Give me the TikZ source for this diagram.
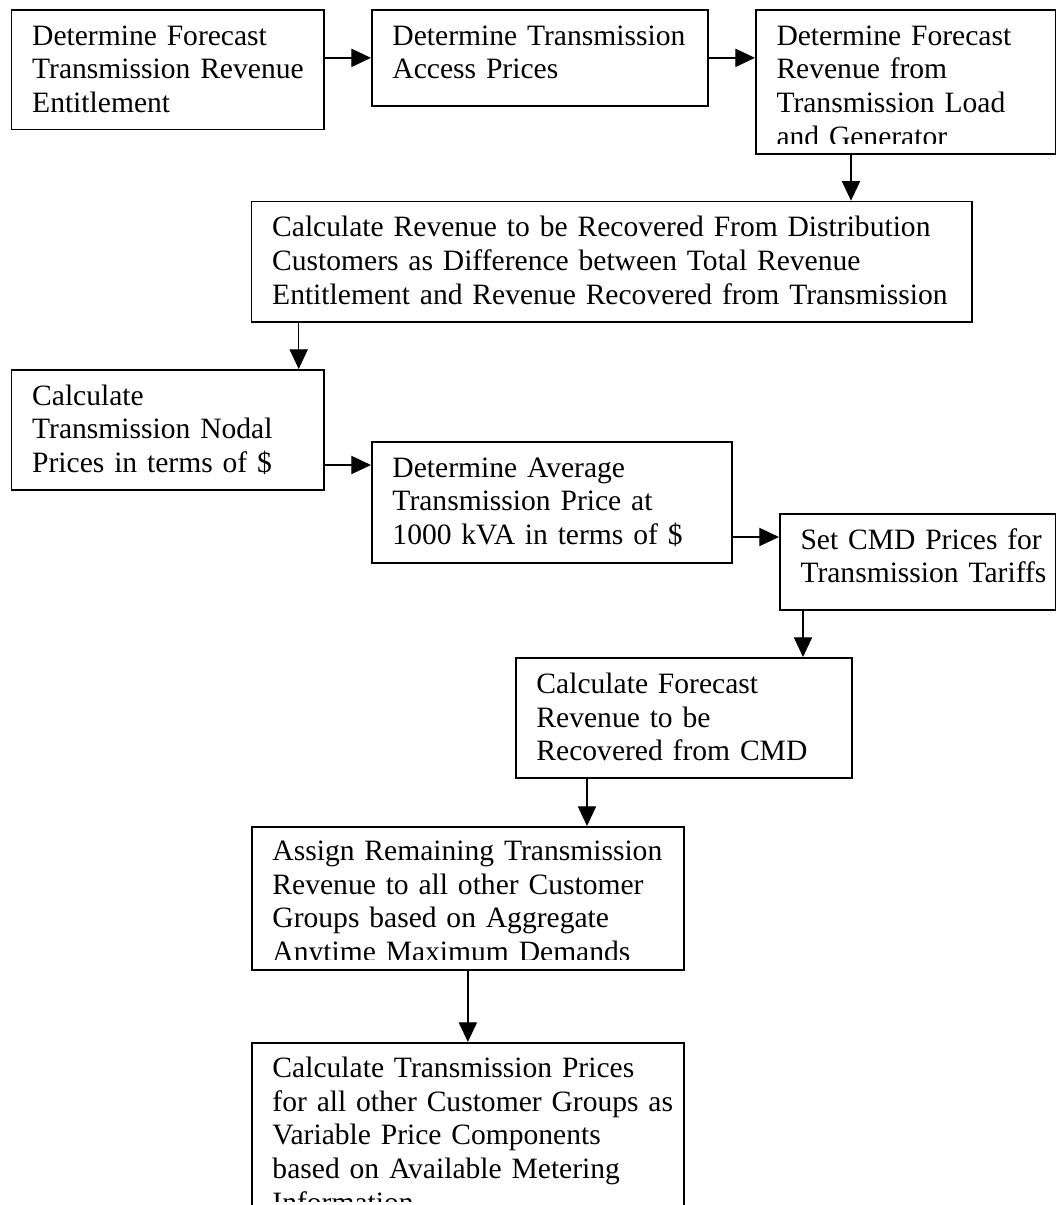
\documentclass[tikz,border=0pt]{standalone}
\usepackage{fontspec}
\setmainfont{Liberation Serif}
\usetikzlibrary{arrows.meta,calc}
\newdimen\pxu
\pxu=0.406pt
\begin{document}
\begin{tikzpicture}[x=\pxu, y=-\pxu]
			% Define styles for the boxes, texts and arrows
			\tikzstyle{stage} = [draw, line width=0.7pt, rectangle, anchor=north west, inner sep=0pt]
			\tikzstyle{stagetext} = [anchor=base west, inner sep=0pt, align=left, text width=300pt, font=\fontsize{12}{13.8}\selectfont]
			\tikzstyle{flow} = [line width=0.55pt, -{Triangle[length=8pt, width=7.4pt]}]

			\useasboundingbox (0,0) rectangle (1056,1205);

			% Define the boxes with positions
			\node[stage, minimum width=312.3\pxu, minimum height=119.7\pxu] (entitle) at (10.7, 9) {};
			\node[stage, minimum width=336\pxu, minimum height=96\pxu] (access) at (371, 9) {};
			\node[stage, minimum width=300\pxu, minimum height=144\pxu] (loadgen) at (755, 9) {};
			\node[stage, minimum width=720.3\pxu, minimum height=120.3\pxu] (distrib) at (250.7, 200.7) {};
			\node[stage, minimum width=312.3\pxu, minimum height=120\pxu] (nodal) at (10.7, 369) {};
			\node[stage, minimum width=360\pxu, minimum height=121\pxu] (average) at (371, 441) {};
			\node[stage, minimum width=276\pxu, minimum height=96\pxu] (cmdset) at (779, 513) {};
			\node[stage, minimum width=336\pxu, minimum height=120\pxu] (cmdrev) at (515, 657) {};
			\node[stage, minimum width=432\pxu, minimum height=143\pxu] (assign) at (251, 826) {};
			\node[stage, minimum width=432\pxu, minimum height=169\pxu] (varprice) at (251, 1042) {};

			% Place the texts
			\node[stagetext] (entitle text) at (31.7, 45) {Determine Forecast\\Transmission Revenue\\Entitlement};
			\node[stagetext] (access text) at (392, 45) {Determine Transmission\\Access Prices};
			\begin{scope}
				\clip (loadgen.north west) rectangle ([yshift=11\pxu]loadgen.south east);
				\node[stagetext] (loadgen text) at (776, 45) {Determine Forecast\\Revenue from\\Transmission Load\\and Generator};
			\end{scope}
			\node[stagetext] (distrib text) at (271.7, 236.7) {Calculate Revenue to be Recovered From Distribution\\Customers as Difference between Total Revenue\\Entitlement and Revenue Recovered from Transmission};
			\node[stagetext] (nodal text) at (31.7, 405) {Calculate\\Transmission Nodal\\Prices in terms of \$};
			\node[stagetext] (average text) at (392, 477) {Determine Average\\Transmission Price at\\1000 kVA in terms of \$};
			\node[stagetext] (cmdset text) at (800, 549) {Set CMD Prices for\\Transmission Tariffs};
			\node[stagetext] (cmdrev text) at (536, 693) {Calculate Forecast\\Revenue to be\\Recovered from CMD};
			\begin{scope}
				\clip (assign.north west) rectangle ([yshift=11\pxu]assign.south east);
				\node[stagetext] (assign text) at (272, 860) {Assign Remaining Transmission\\Revenue to all other Customer\\Groups based on Aggregate\\Anytime Maximum Demands};
			\end{scope}
			\begin{scope}
				\clip (varprice.north west) rectangle ([yshift=11\pxu]varprice.south east);
				\node[stagetext] (varprice text) at (272, 1077) {Calculate Transmission Prices\\for all other Customer Groups as\\Variable Price Components\\based on Available Metering\\Information};
			\end{scope}

			% Draw the arrows
			\draw[flow] (entitle.east |- access.west) -- (access.west);
			\draw[flow] (access.east) -- (access.east -| loadgen.west);
			\draw[flow] ([xshift=96\pxu]loadgen.south west) -- ([xshift=96\pxu]loadgen.south west |- distrib.north);
			\draw[flow] ([xshift=48\pxu]distrib.south west) -- ([xshift=48\pxu]distrib.south west |- nodal.north);
			\draw[flow] ([yshift=-96\pxu]nodal.north east) -- ([yshift=-96\pxu]nodal.north east -| average.west);
			\draw[flow] ([yshift=-96\pxu]average.north east) -- ([yshift=-96\pxu]average.north east -| cmdset.west);
			\draw[flow] ([xshift=24\pxu]cmdset.south west) -- ([xshift=24\pxu]cmdset.south west |- cmdrev.north);
			\draw[flow] ([xshift=72\pxu]cmdrev.south west) -- ([xshift=72\pxu]cmdrev.south west |- assign.north);
			\draw[flow] (assign.south) -- (varprice.north);

		\end{tikzpicture}
\end{document}
